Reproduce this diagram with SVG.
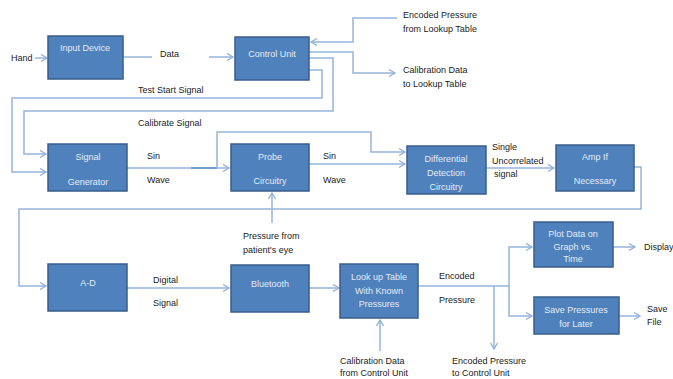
<svg xmlns="http://www.w3.org/2000/svg" width="673" height="379" viewBox="0 0 673 379">
  <defs>
    <marker id="arrow" markerUnits="userSpaceOnUse" markerWidth="10" markerHeight="10" refX="7" refY="4" orient="auto">
      <path d="M1,0.5 L7,4 L1,7.5" fill="none" stroke="#8fb0da" stroke-width="1.3"/>
    </marker>
  </defs>
  <style>
    .box { fill: #4f81bd; stroke: #385d8a; stroke-width: 1.5; }
    .in { font-family: "Liberation Sans", Arial, sans-serif; font-size: 9px; fill: #e4ecf7; text-anchor: middle; }
    .lbl { font-family: "Liberation Sans", Arial, sans-serif; font-size: 9px; fill: #1a1a1a; }
    .wire { fill: none; stroke: #95b5dd; stroke-width: 1.5; }
    .arr { marker-end: url(#arrow); }
  </style>
  <rect width="673" height="379" fill="#ffffff"/>

  <!-- connectors -->
  <g id="connectors">
    <path class="wire arr" d="M35,58 H47"/>
    <path class="wire" d="M123,57 H152"/>
    <path class="wire arr" d="M209,57 H233"/>
    <path class="wire arr" d="M397,18 H353 V42 H311"/>
    <path class="wire arr" d="M309,52 H353 V73 H395"/>
    <path class="wire arr" d="M309,58 H333 V111 H24 V154 H46"/>
    <path class="wire arr" d="M309,70 H322 V98 H12 V172 H46"/>
    <path class="wire arr" d="M127,168 H229"/>
    <path d="M191,168 H217" fill="none" stroke="#5f8cc4" stroke-width="1.5"/>
    <path class="wire arr" d="M217,168 V132 H371 V152 H405"/>
    <path class="wire arr" d="M309,164 H405"/>
    <path class="wire arr" d="M486,168 H554"/>
    <path class="wire arr" d="M634,167 H641 V209 H19 V286 H46"/>
    <path class="wire arr" d="M272,223 V193"/>
    <path class="wire arr" d="M127,288 H229"/>
    <path class="wire arr" d="M309,288 H339"/>
    <path class="wire" d="M418,286 H509"/>
    <path class="wire arr" d="M494,286 V349"/>
    <path class="wire arr" d="M509,286 V247 H532"/>
    <path class="wire arr" d="M509,286 V316 H532"/>
    <path class="wire arr" d="M613,247 H635"/>
    <path class="wire arr" d="M619,316 H640"/>
    <path class="wire arr" d="M380,351 V320"/>
  </g>

  <!-- nodes -->
  <g id="input-device">
    <rect class="box" x="48" y="36" width="75" height="43"/>
    <text class="in" x="85" y="51">Input Device</text>
  </g>
  <g id="control-unit">
    <rect class="box" x="235" y="37" width="74" height="43"/>
    <text class="in" x="272" y="57">Control Unit</text>
  </g>
  <g id="signal-generator">
    <rect class="box" x="48" y="144" width="79" height="47"/>
    <text class="in" x="88" y="160">Signal</text>
    <text class="in" x="88" y="185">Generator</text>
  </g>
  <g id="probe-circuitry">
    <rect class="box" x="231" y="144" width="78" height="47"/>
    <text class="in" x="270" y="160">Probe</text>
    <text class="in" x="270" y="184">Circuitry</text>
  </g>
  <g id="differential-detection">
    <rect class="box" x="407" y="146" width="79" height="48"/>
    <text class="in" x="446" y="162">Differential</text>
    <text class="in" x="446" y="176">Detection</text>
    <text class="in" x="446" y="190">Circuitry</text>
  </g>
  <g id="amp">
    <rect class="box" x="556" y="145" width="78" height="46"/>
    <text class="in" x="595" y="160">Amp If</text>
    <text class="in" x="595" y="184">Necessary</text>
  </g>
  <g id="a-d">
    <rect class="box" x="48" y="264" width="79" height="47"/>
    <text class="in" x="88" y="286">A-D</text>
  </g>
  <g id="bluetooth">
    <rect class="box" x="231" y="265" width="78" height="47"/>
    <text class="in" x="270" y="287">Bluetooth</text>
  </g>
  <g id="lookup-table">
    <rect class="box" x="340" y="264" width="78" height="54"/>
    <text class="in" x="379" y="280">Look up Table</text>
    <text class="in" x="379" y="294">With Known</text>
    <text class="in" x="379" y="307">Pressures</text>
  </g>
  <g id="plot-data">
    <rect class="box" x="534" y="222" width="79" height="45"/>
    <text class="in" x="573" y="237">Plot Data on</text>
    <text class="in" x="573" y="250">Graph vs.</text>
    <text class="in" x="573" y="262">Time</text>
  </g>
  <g id="save-pressures">
    <rect class="box" x="534" y="297" width="85" height="37"/>
    <text class="in" x="576" y="313">Save Pressures</text>
    <text class="in" x="576" y="327">for Later</text>
  </g>

  <!-- labels -->
  <g id="labels">
    <text class="lbl" x="11" y="61">Hand</text>
    <text class="lbl" x="160" y="57">Data</text>
    <text class="lbl" x="403" y="18">Encoded Pressure</text>
    <text class="lbl" x="403" y="32">from Lookup Table</text>
    <text class="lbl" x="403" y="73">Calibration Data</text>
    <text class="lbl" x="403" y="87">to Lookup Table</text>
    <text class="lbl" x="138" y="93">Test Start Signal</text>
    <text class="lbl" x="138" y="126">Calibrate Signal</text>
    <text class="lbl" x="147" y="159">Sin</text>
    <text class="lbl" x="147" y="183">Wave</text>
    <text class="lbl" x="323" y="159">Sin</text>
    <text class="lbl" x="323" y="183">Wave</text>
    <text class="lbl" x="492" y="150">Single</text>
    <text class="lbl" x="492" y="164">Uncorrelated</text>
    <text class="lbl" x="494" y="177">signal</text>
    <text class="lbl" x="243" y="239">Pressure from</text>
    <text class="lbl" x="243" y="253">patient's eye</text>
    <text class="lbl" x="153" y="283">Digital</text>
    <text class="lbl" x="153" y="306">Signal</text>
    <text class="lbl" x="439" y="279">Encoded</text>
    <text class="lbl" x="439" y="303">Pressure</text>
    <text class="lbl" x="644" y="250">Display</text>
    <text class="lbl" x="647" y="312">Save</text>
    <text class="lbl" x="647" y="325">File</text>
    <text class="lbl" x="340" y="364">Calibration Data</text>
    <text class="lbl" x="340" y="376">from Control Unit</text>
    <text class="lbl" x="452" y="364">Encoded Pressure</text>
    <text class="lbl" x="452" y="376">to Control Unit</text>
  </g>
</svg>
